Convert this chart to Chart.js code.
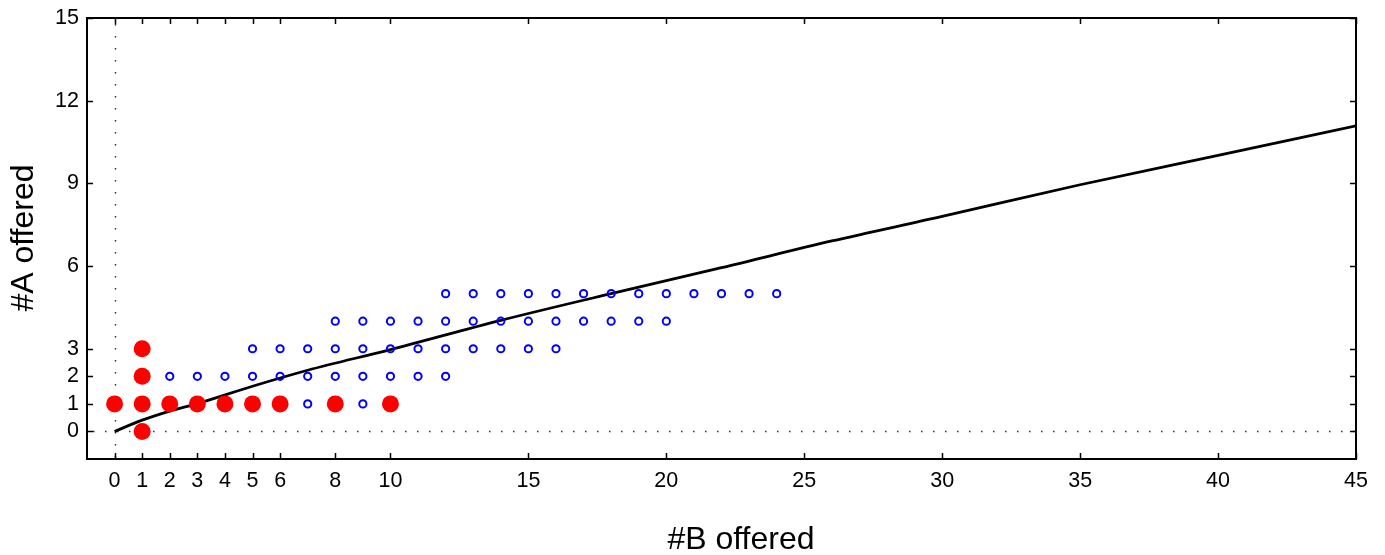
<!DOCTYPE html>
<html>
<head>
<meta charset="utf-8">
<script src="https://cdn.jsdelivr.net/npm/chart.js@4/dist/chart.umd.min.js"></script>
<style>
  body { margin: 0; background: #fff; }
  canvas { display: block; }
</style>
</head>
<body>
<canvas id="offerChart" width="1385" height="555"></canvas>
<script>
// tick positions
var xTicks = [0, 1, 2, 3, 4, 5, 6, 8, 10, 15, 20, 25, 30, 35, 40, 45];
var yTicks = [0, 1, 2, 3, 6, 9, 12, 15];

// open blue circles (#B, #A)
var blueB = [12, 13, 14, 15, 16, 17, 18, 19, 20, 21, 22, 23, 24,
             8, 9, 10, 11, 12, 13, 14, 15, 16, 17, 18, 19, 20,
             5, 6, 7, 8, 9, 10, 11, 12, 13, 14, 15, 16,
             2, 3, 4, 5, 6, 7, 8, 9, 10, 11, 12,
             7, 9];
var blueA = [5, 5, 5, 5, 5, 5, 5, 5, 5, 5, 5, 5, 5,
             4, 4, 4, 4, 4, 4, 4, 4, 4, 4, 4, 4, 4,
             3, 3, 3, 3, 3, 3, 3, 3, 3, 3, 3, 3,
             2, 2, 2, 2, 2, 2, 2, 2, 2, 2, 2,
             1, 1];

// filled red dots
var redB = [0, 1, 2, 3, 4, 5, 6, 8, 10, 1, 1, 1];
var redA = [1, 1, 1, 1, 1, 1, 1, 1, 1, 0, 2, 3];

// fitted curve
var curveB = [0, 1, 2, 3, 5, 7, 10, 14, 18, 22, 26, 30, 35, 40, 45];
var curveA = [0, 0.41, 0.74, 1.01, 1.64, 2.22, 2.97, 4.03, 5.0, 5.94, 6.91, 7.8, 8.95, 10.02, 11.09];

function toPoints(xs, ys) {
    return xs.map(function(x, i) { return { x: x, y: ys[i] }; });
}

var fontFamily = "'Liberation Sans', Arial, sans-serif";

/**
 *  Dotted zero lines, inward ticks on all four sides, frame and axis titles.
 */
var framePlugin = {
    id: 'frame',
    beforeDatasetsDraw: function(chart) {
        var ctx = chart.ctx;
        var area = chart.chartArea;
        var xs = chart.scales.x;
        var ys = chart.scales.y;
        ctx.save();
        ctx.strokeStyle = '#333';
        ctx.lineWidth = 1.5;
        ctx.setLineDash([1.5, 10.5]);
        var x0 = Math.round(xs.getPixelForValue(0)) + 0.5;
        var y0 = Math.round(ys.getPixelForValue(0)) + 0.5;
        ctx.beginPath();
        ctx.moveTo(x0, area.top + 6);
        ctx.lineTo(x0, area.bottom);
        ctx.moveTo(area.left + 6, y0);
        ctx.lineTo(area.right, y0);
        ctx.stroke();
        ctx.restore();
    },
    afterDatasetsDraw: function(chart) {
        var ctx = chart.ctx;
        var area = chart.chartArea;
        var xs = chart.scales.x;
        var ys = chart.scales.y;
        var tick = 6;
        ctx.save();
        ctx.strokeStyle = '#000';
        ctx.lineWidth = 1.5;
        ctx.beginPath();
        xTicks.forEach(function(v) {
            var px = Math.round(xs.getPixelForValue(v)) + 0.5;
            ctx.moveTo(px, area.bottom);
            ctx.lineTo(px, area.bottom - tick);
            ctx.moveTo(px, area.top);
            ctx.lineTo(px, area.top + tick);
        });
        yTicks.forEach(function(v) {
            var py = Math.round(ys.getPixelForValue(v)) + 0.5;
            ctx.moveTo(area.left, py);
            ctx.lineTo(area.left + tick, py);
            ctx.moveTo(area.right, py);
            ctx.lineTo(area.right - tick, py);
        });
        ctx.stroke();
        ctx.lineWidth = 2;
        ctx.strokeRect(area.left, area.top, area.right - area.left, area.bottom - area.top);

        ctx.fillStyle = '#000';
        ctx.font = '32px ' + fontFamily;
        ctx.textAlign = 'center';
        ctx.textBaseline = 'middle';
        ctx.fillText('#B offered', 741, 540);
        ctx.translate(24, 238);
        ctx.rotate(-Math.PI / 2);
        ctx.fillText('#A offered', 0, 0);
        ctx.restore();
    }
};

var offerChart = new Chart(document.getElementById('offerChart').getContext('2d'), {
    type: 'scatter',
    data: {
        datasets: [{
            label: 'chosen',
            data: toPoints(redB, redA),
            pointRadius: 8.5,
            pointHoverRadius: 8.5,
            backgroundColor: '#ff0000',
            borderColor: '#ff0000',
            borderWidth: 0
        }, {
            label: 'offered',
            data: toPoints(blueB, blueA),
            pointRadius: 3.6,
            pointHoverRadius: 3.6,
            backgroundColor: 'rgba(0, 0, 0, 0)',
            borderColor: '#0000ff',
            borderWidth: 2
        }, {
            label: 'fit',
            type: 'line',
            data: toPoints(curveB, curveA),
            showLine: true,
            pointRadius: 0,
            borderColor: '#000',
            borderWidth: 2.8,
            cubicInterpolationMode: 'monotone',
            fill: false
        }]
    },
    options: {
        responsive: false,
        animation: false,
        layout: { padding: { top: 18, right: 29, left: 0, bottom: 0 } },
        plugins: {
            legend: { display: false },
            tooltip: { enabled: false }
        },
        scales: {
            x: {
                type: 'linear',
                min: -1,
                max: 45,
                grid: { display: false, drawTicks: false },
                border: { display: false },
                afterBuildTicks: function(scale) {
                    scale.ticks = xTicks.map(function(v) { return { value: v }; });
                },
                afterFit: function(scale) {
                    scale.height = 96;
                    scale.paddingLeft = 0;
                    scale.paddingRight = 0;
                },
                ticks: {
                    autoSkip: false,
                    maxRotation: 0,
                    padding: 9,
                    color: '#000',
                    font: { family: fontFamily, size: 21.5 }
                }
            },
            y: {
                type: 'linear',
                min: -1,
                max: 15,
                grid: { display: false, drawTicks: false },
                border: { display: false },
                afterBuildTicks: function(scale) {
                    scale.ticks = yTicks.map(function(v) { return { value: v }; });
                },
                afterFit: function(scale) {
                    scale.width = 87;
                    scale.paddingTop = 0;
                    scale.paddingBottom = 0;
                },
                ticks: {
                    autoSkip: false,
                    padding: 8,
                    color: '#000',
                    font: { family: fontFamily, size: 21.5 }
                }
            }
        }
    },
    plugins: [framePlugin]
});
</script>
</body>
</html>
